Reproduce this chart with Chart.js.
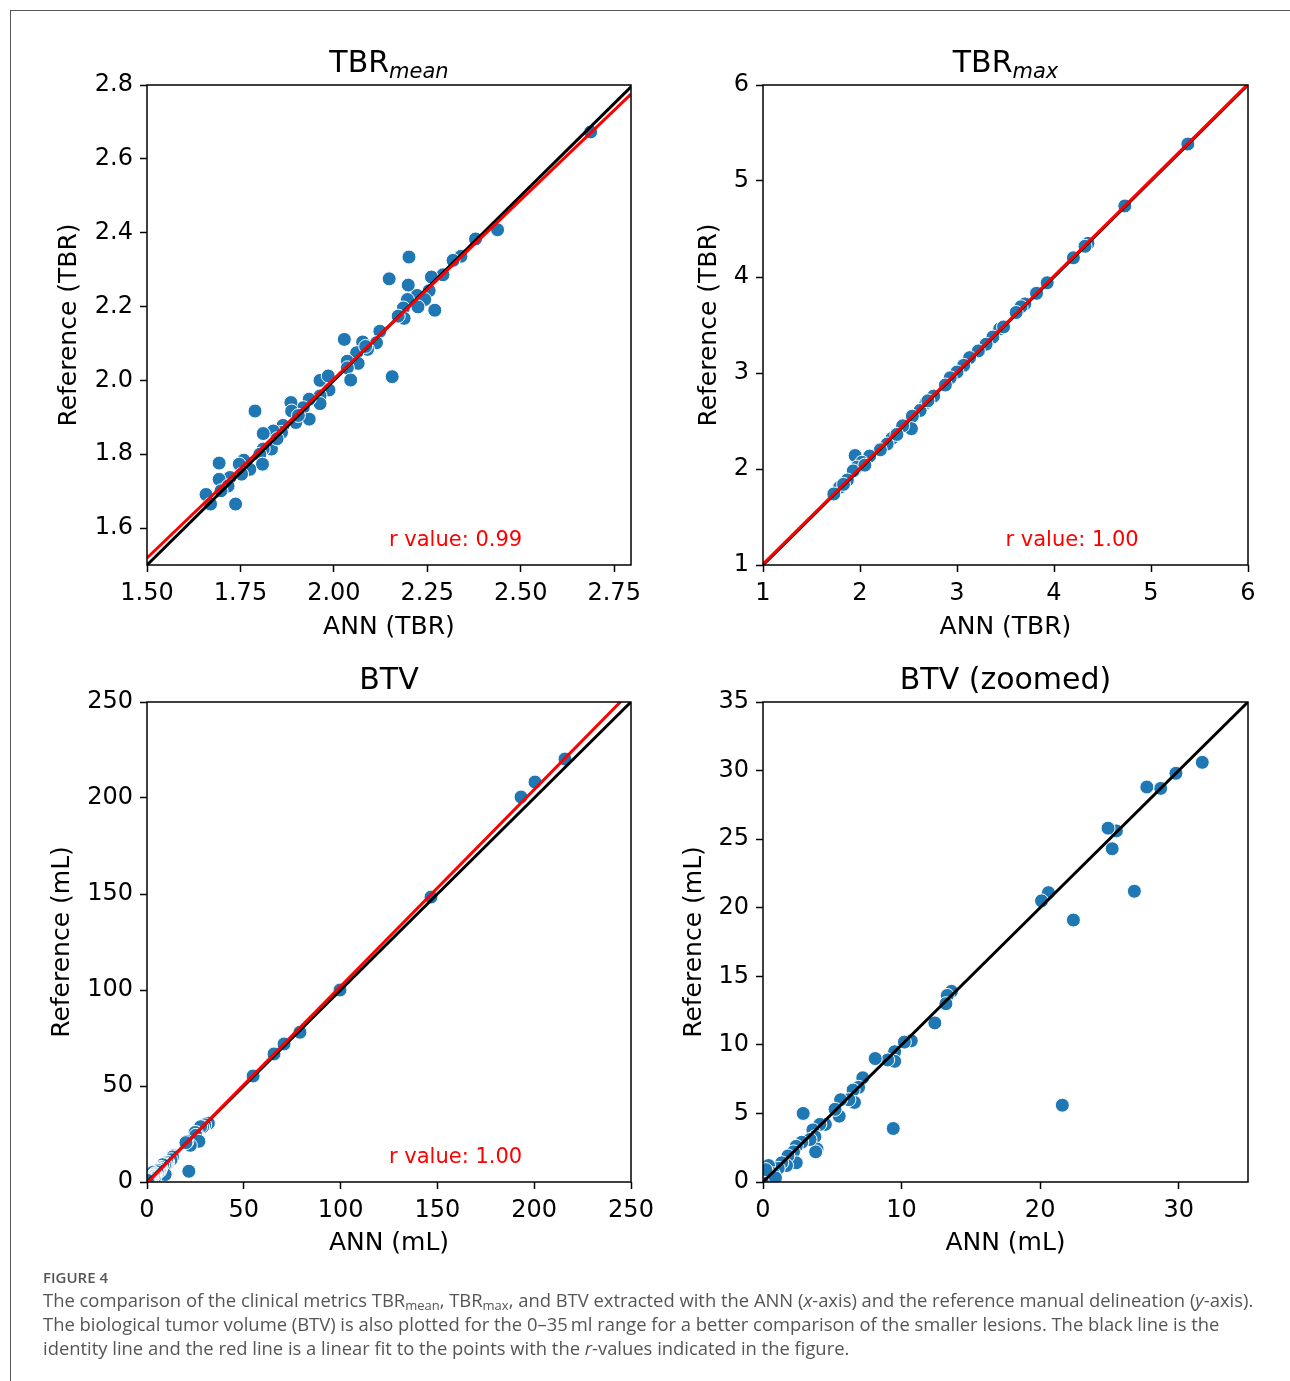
<!DOCTYPE html>
<html>
<head>
<meta charset="utf-8">
<script src="https://cdn.jsdelivr.net/npm/chart.js@4.4.1/dist/chart.umd.min.js"></script>
<style>
  html, body { margin: 0; padding: 0; background: #fff; }
  body { width: 1290px; height: 1381px; position: relative; overflow: hidden; }
  #frame { position: absolute; left: 10px; top: 10px; width: 1280px; height: 1371px;
           border-top: 1.5px solid #555; border-left: 1.5px solid #555; }
  canvas { position: absolute; }
  #caption { position: absolute; left: 43px; top: 1266px; font-family: "Open Sans", sans-serif;
             color: #555; white-space: nowrap; }
  #caption .fig { font-size: 15px; font-weight: 600; line-height: 22px; }
  #caption .ln { font-size: 18.4px; line-height: 24px; }
  #caption sub { font-size: 13px; vertical-align: -3px; line-height: 0; }
</style>
</head>
<body>
<div id="frame"></div>
<canvas id="c1" width="690" height="650" style="left:0;top:0"></canvas>
<canvas id="c2" width="645" height="650" style="left:645px;top:0"></canvas>
<canvas id="c3" width="690" height="617" style="left:0;top:650px"></canvas>
<canvas id="c4" width="645" height="617" style="left:645px;top:650px"></canvas>
<div id="caption">
  <div class="fig">FIGURE 4</div>
  <div class="ln">The comparison of the clinical metrics TBR<sub>mean</sub>, TBR<sub>max</sub>, and BTV extracted with the ANN (<i>x</i>-axis) and the reference manual delineation (<i>y</i>-axis).</div>
  <div class="ln">The biological tumor volume (BTV) is also plotted for the 0–35&#8201;ml range for a better comparison of the smaller lesions. The black line is the</div>
  <div class="ln">identity line and the red line is a linear fit to the points with the <i>r</i>-values indicated in the figure.</div>
</div>
<script>
// TBR mean: ANN (x) vs reference (y)
const tbrMeanAnn = [2.687, 2.438, 2.379, 2.340, 2.319, 2.292, 2.201, 2.148, 2.199, 2.261, 2.255, 2.223, 2.197, 2.243,
  2.225, 2.270, 2.186, 2.188, 2.172, 2.123, 2.028, 2.077, 2.114, 2.090, 2.061, 2.036, 2.065, 2.036, 2.045, 2.156,
  1.963, 1.985, 1.987, 1.963, 1.963, 1.934, 1.918, 1.885, 1.887, 1.934, 1.898, 1.864, 1.789, 1.860, 1.838, 1.811,
  1.833, 1.811, 1.802, 1.809, 1.775, 1.759, 1.747, 1.753, 1.722, 1.693, 1.693, 1.717, 1.698, 1.658, 1.670, 1.737,
  2.085, 1.848, 1.905];
const tbrMeanRef = [2.673, 2.408, 2.383, 2.336, 2.325, 2.286, 2.334, 2.275, 2.258, 2.280, 2.243, 2.230, 2.219, 2.219,
  2.199, 2.190, 2.196, 2.168, 2.174, 2.133, 2.111, 2.104, 2.102, 2.084, 2.075, 2.052, 2.046, 2.034, 2.001, 2.010,
  2.000, 2.012, 1.974, 1.958, 1.937, 1.949, 1.926, 1.940, 1.917, 1.895, 1.886, 1.878, 1.917, 1.859, 1.863, 1.856,
  1.814, 1.814, 1.800, 1.773, 1.759, 1.784, 1.773, 1.746, 1.737, 1.776, 1.732, 1.714, 1.701, 1.691, 1.665, 1.665,
  2.092, 1.842, 1.905];

// TBR max
const tbrMaxAnn = [5.38, 4.73, 4.35, 4.32, 4.20, 3.93, 3.82, 3.70, 3.66, 3.61, 3.44, 3.37, 3.30, 3.22, 3.13, 3.07,
  3.00, 2.93, 2.88, 2.76, 2.68, 2.62, 2.54, 2.53, 2.44, 2.33, 2.28, 2.21, 2.10, 1.95, 2.02, 1.97, 1.93, 1.87, 1.79,
  1.73, 2.05, 1.83, 2.70, 3.48, 2.38];
const tbrMaxRef = [5.385, 4.74, 4.35, 4.32, 4.20, 3.94, 3.83, 3.72, 3.69, 3.63, 3.46, 3.375, 3.30, 3.23, 3.16, 3.08,
  3.01, 2.95, 2.875, 2.76, 2.69, 2.61, 2.55, 2.42, 2.45, 2.32, 2.26, 2.20, 2.135, 2.14, 2.07, 2.02, 1.98, 1.885, 1.81,
  1.74, 2.04, 1.84, 2.71, 3.48, 2.36];

// BTV (mL), shared by the full and zoomed panels
const btvAnn = [215.9, 200.4, 193.2, 146.7, 99.7, 79.0, 70.8, 65.6, 54.8,
  31.7, 29.8, 28.7, 27.7, 25.5, 24.9, 25.2, 26.8, 22.4, 21.6, 20.6, 20.1, 13.6, 13.3, 13.2, 12.4, 10.7, 10.2,
  9.5, 9.5, 9.0, 8.1, 9.4, 7.2, 6.9, 6.5, 6.6, 6.2, 5.6, 5.5, 5.2, 2.9, 4.5, 4.1, 3.6, 3.75, 3.9, 3.8, 3.4, 2.8,
  2.4, 2.2, 2.4, 1.8, 1.7, 1.35, 1.1, 0.4, 0.75, 0.5, 0.15, 0.9, 0.2];
const btvRef = [220.3, 208.3, 200.5, 148.4, 100.0, 78.0, 71.9, 66.7, 55.2,
  30.6, 29.8, 28.7, 28.8, 25.6, 25.8, 24.3, 21.2, 19.1, 5.6, 21.1, 20.5, 13.9, 13.6, 13.0, 11.6, 10.3, 10.2,
  9.5, 8.8, 8.9, 9.0, 3.9, 7.6, 6.9, 6.7, 5.8, 6.0, 6.0, 4.8, 5.3, 5.0, 4.2, 4.2, 3.8, 3.3, 2.4, 2.2, 3.1, 2.9,
  2.6, 2.2, 1.4, 1.9, 1.2, 1.4, 1.0, 1.2, 0.6, 0.5, 0.4, 0.3, 0.9];

// linear fits (slope, intercept) and r values
const fitSlope = [0.970, 1.000, 1.025];
const fitIntercept = [0.064, 0.010, -0.6];
const rValues = ['0.99', '1.00', '1.00'];

// tick labels
const tbrMeanXTicks = ['1.50', '1.75', '2.00', '2.25', '2.50', '2.75'];
const tbrMeanYTicks = ['1.6', '1.8', '2.0', '2.2', '2.4', '2.6', '2.8'];
const tbrMaxTicks = ['1', '2', '3', '4', '5', '6'];
const btvTicks = ['0', '50', '100', '150', '200', '250'];
const btvZoomXTicks = ['0', '10', '20', '30'];
const btvZoomYTicks = ['0', '5', '10', '15', '20', '25', '30', '35'];

const FONT = 'DejaVu Sans';

const decor = {
  id: 'decor',
  afterDraw(chart, args, opts) {
    const ctx = chart.ctx, a = chart.chartArea;
    ctx.save();
    ctx.strokeStyle = '#000';
    ctx.lineWidth = 1.5;
    ctx.strokeRect(a.left, a.top, a.right - a.left, a.bottom - a.top);

    ctx.fillStyle = '#000';
    ctx.textBaseline = 'alphabetic';
    ctx.textAlign = 'left';
    ctx.font = '30px "' + FONT + '"';
    const w1 = ctx.measureText(opts.main).width;
    ctx.font = 'italic 21px "' + FONT + '"';
    const w2 = opts.sub ? ctx.measureText(opts.sub).width : 0;
    const x0 = (a.left + a.right) / 2 - (w1 + w2) / 2;
    const y0 = a.top - 13;
    ctx.font = '30px "' + FONT + '"';
    ctx.fillText(opts.main, x0, y0);
    if (opts.sub) {
      ctx.font = 'italic 21px "' + FONT + '"';
      ctx.fillText(opts.sub, x0 + w1, y0 + 6);
    }
    if (opts.rText) {
      ctx.font = '21px "' + FONT + '"';
      ctx.fillStyle = 'red';
      ctx.textBaseline = 'middle';
      ctx.fillText(opts.rText, a.left + 0.5 * (a.right - a.left), a.bottom - 0.05 * (a.bottom - a.top));
    }
    ctx.restore();
  }
};

function axis(pos, min, max, labels, title, titlePad, size) {
  return {
    type: 'linear',
    position: pos,
    min: min,
    max: max,
    afterBuildTicks: s => { s.ticks = labels.map(t => ({value: Number(t)})); },
    afterFit: s => { if (pos === 'left') s.width = size; else s.height = size; },
    ticks: {
      callback: (v, i) => labels[i],
      font: {family: FONT, size: 24},
      color: '#000',
      padding: pos === 'left' ? 7 : 7,
      maxRotation: 0,
      autoSkip: false
    },
    grid: {drawOnChartArea: false, drawTicks: true, tickLength: 7, tickWidth: 1.5, tickColor: '#000', color: '#000'},
    border: {display: false},
    title: {
      display: true,
      text: title,
      color: '#000',
      font: {family: FONT, size: 25, lineHeight: 1.2},
      padding: {top: titlePad, bottom: titlePad}
    }
  };
}

function points(xs, ys) {
  return xs.map((x, i) => ({x: x, y: ys[i]}));
}

function lineSet(x1, x2, slope, icpt, color) {
  return {
    data: [{x: x1, y: slope * x1 + icpt}, {x: x2, y: slope * x2 + icpt}],
    showLine: true,
    pointRadius: 0,
    borderColor: color,
    borderWidth: 3,
    fill: false
  };
}

function makePanel(id, p) {
  const datasets = [];
  if (p.fit !== undefined) {
    datasets.push(lineSet(p.xr[0], p.xr[1], fitSlope[p.fit], fitIntercept[p.fit], 'red'));
  }
  datasets.push(lineSet(p.xr[0], Math.max(p.xr[1], p.yr[1]), 1, 0, '#000'));
  datasets.push({
    data: points(p.xs, p.ys),
    backgroundColor: '#1f77b4',
    borderColor: '#fff',
    borderWidth: 1,
    pointRadius: 7
  });
  return new Chart(document.getElementById(id), {
    type: 'scatter',
    data: {datasets: datasets},
    plugins: [decor],
    options: {
      responsive: false,
      animation: false,
      events: [],
      layout: {padding: {left: 0, top: p.top, right: p.right, bottom: 0}},
      scales: {
        x: axis('bottom', p.xr[0], p.xr[1], p.xt, p.xl, p.xPad, 85),
        y: axis('left', p.yr[0], p.yr[1], p.yt, p.yl, p.yPad, p.yw)
      },
      plugins: {
        legend: {display: false},
        tooltip: {enabled: false},
        decor: {
          main: p.title,
          sub: p.sub || '',
          rText: p.fit !== undefined ? 'r value: ' + rValues[p.fit] : ''
        }
      }
    }
  });
}

makePanel('c1', {xs: tbrMeanAnn, ys: tbrMeanRef, xr: [1.5, 2.795], yr: [1.5, 2.8],
  xt: tbrMeanXTicks, yt: tbrMeanYTicks, xl: 'ANN (TBR)', yl: 'Reference (TBR)',
  title: 'TBR', sub: 'mean', fit: 0, top: 85, right: 59, yw: 147, xPad: 8, yPad: 54});

makePanel('c2', {xs: tbrMaxAnn, ys: tbrMaxRef, xr: [1, 6], yr: [1, 6],
  xt: tbrMaxTicks, yt: tbrMaxTicks, xl: 'ANN (TBR)', yl: 'Reference (TBR)',
  title: 'TBR', sub: 'max', fit: 1, top: 85, right: 42, yw: 118, xPad: 8, yPad: 49});

makePanel('c3', {xs: btvAnn, ys: btvRef, xr: [0, 250], yr: [0, 250],
  xt: btvTicks, yt: btvTicks, xl: 'ANN (mL)', yl: 'Reference (mL)',
  title: 'BTV', fit: 2, top: 52, right: 59, yw: 147, xPad: 9, yPad: 47});

makePanel('c4', {xs: btvAnn, ys: btvRef, xr: [0, 35], yr: [0, 35],
  xt: btvZoomXTicks, yt: btvZoomYTicks, xl: 'ANN (mL)', yl: 'Reference (mL)',
  title: 'BTV (zoomed)', top: 52, right: 42, yw: 118, xPad: 9, yPad: 34});
</script>
</body>
</html>
